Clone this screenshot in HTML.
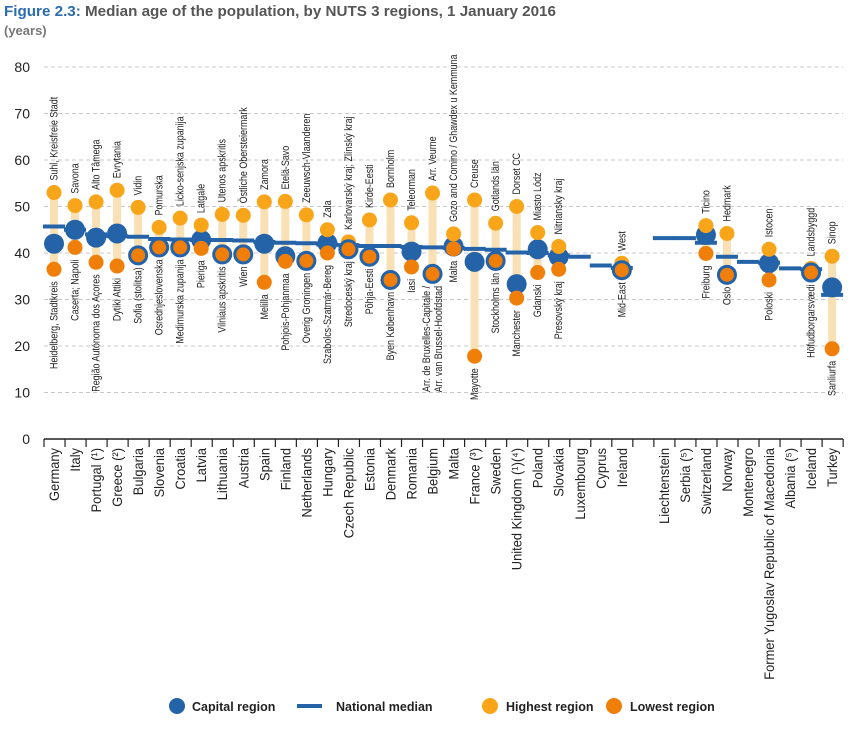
<!DOCTYPE html>
<html><head><meta charset="utf-8">
<style>
body{margin:0;background:#fff;width:853px;height:724px;overflow:hidden;font-family:"Liberation Sans",sans-serif}
svg text{font-family:"Liberation Sans Narrow","Liberation Sans",sans-serif}
</style></head>
<body>
<svg id="chart" width="853" height="724" viewBox="0 0 853 724" xmlns="http://www.w3.org/2000/svg">
<text x="4" y="16" font-family="Liberation Sans" font-size="15.2" font-weight="bold" fill="#555" style="font-family:'Liberation Sans'"><tspan fill="#2b6cb0">Figure 2.3:</tspan> Median age of the population, by NUTS 3 regions, 1 January 2016</text>
<text x="4" y="35" font-size="13" font-weight="bold" fill="#777" style="font-family:'Liberation Sans'">(years)</text>
<g id="grid"></g><g id="marks"></g><g id="labels"></g>
<g font-size="12.5" font-weight="bold" fill="#222">
<circle cx="177" cy="706" r="8" fill="#2563a8"/>
<text x="192" y="711" style="font-family:'Liberation Sans'">Capital region</text>
<line x1="297" y1="706" x2="322" y2="706" stroke="#2563a8" stroke-width="4"/>
<text x="336" y="711" style="font-family:'Liberation Sans'">National median</text>
<circle cx="490" cy="706" r="8" fill="#f9a51a"/>
<text x="506" y="711" style="font-family:'Liberation Sans'">Highest region</text>
<circle cx="614" cy="706" r="8" fill="#f07f0a"/>
<text x="630" y="711" style="font-family:'Liberation Sans'">Lowest region</text>
</g>
</svg>
<script>
const countries=["Germany","Italy","Portugal (¹)","Greece (²)","Bulgaria","Slovenia","Croatia","Latvia","Lithuania","Austria","Spain","Finland","Netherlands","Hungary","Czech Republic","Estonia","Denmark","Romania","Belgium","Malta","France (³)","Sweden","United Kingdom (¹)(⁴)","Poland","Slovakia","Luxembourg","Cyprus","Ireland","","Liechtenstein","Serbia (⁵)","Switzerland","Norway","Montenegro","Former Yugoslav Republic of Macedonia","Albania (⁵)","Iceland","Turkey"];
const medianVals=[45.7,45,44,43.6,43.5,43,42.9,42.8,42.8,42.7,42.4,42.2,42.1,41.8,41.7,41.5,41.5,41.3,41.2,41.1,40.9,40.7,40.1,40,39.5,39.2,37.3,36.8,null,43.2,43.2,42.2,39.2,38.1,37.9,36.7,36.5,31];
const highVals=[53,50.2,51,53.5,49.8,45.5,47.5,46,48.3,48.1,51,51.1,48.2,45,42.4,47.1,51.4,46.5,52.9,44.1,51.4,46.4,50,44.4,41.4,null,null,37.8,null,null,null,45.9,44.2,null,40.8,null,36.7,39.3];
const lowVals=[36.5,41.2,38,37.2,39.5,41.2,41.2,41,39.7,39.7,33.7,38.2,38.3,40,40.8,39.2,34.2,37,35.5,40.9,17.8,38.3,30.3,35.8,36.5,null,null,36.3,null,null,null,39.9,35.3,null,34.2,null,35.8,19.4];
const capitalVals=[42,45,43.3,44.2,39.5,41.2,41.2,42.8,39.7,39.7,42,39.3,38.3,42.1,40.8,39.2,34.2,40.3,35.5,41.4,38.1,38.3,33.3,40.8,39.2,null,null,36.3,null,null,null,43.9,35.3,null,37.8,null,35.8,32.6];
const highNames=["Suhl, Kreisfreie Stadt","Savona","Alto Tâmega","Evrytania","Vidin","Pomurska","Licko-senjska zupanija","Latgale","Utenos apskritis","Östliche Obersteiermark","Zamora","Etelä-Savo","Zeeuwsch-Vlaanderen","Zala","Karlovarský kraj; Zlínský kraj","Kirde-Eesti","Bornholm","Teleorman","Arr. Veurne","Gozo and Comino / Ghawdex u Kemmuna","Creuse","Gotlands län","Dorset CC","Miasto Lódz","Nitriansky kraj","","","West","","","","Ticino","Hedmark","","Istocen","","Landsbyggd","Sinop"];
const lowNames=["Heidelberg, Stadtkreis","Caserta; Napoli","Região Autónoma dos Açores","Dytiki Attiki","Sofia (stolitsa)","Osrednjeslovenska","Medimurska zupanija","Pieriga","Vilniaus apskritis","Wien","Melilla","Pohjois-Pohjanmaa","Overig Groningen","Szabolcs-Szatmár-Bereg","Stredoceský kraj","Põhja-Eesti","Byen København","Iasi","Arr. de Bruxelles-Capitale /|Arr. van Brussel-Hoofdstad","Malta","Mayotte","Stockholms län","Manchester","Gdanski","Presovský kraj","","","Mid-East","","","","Freiburg","Oslo","","Poloski","","Höfudborgarsvædi","Sanliurfa"];
const yTicks=[0,10,20,30,40,50,60,70,80];

const NS="http://www.w3.org/2000/svg";
const X0=54,STEP=21.03,Y0=439,PER=4.65;
function xPos(i){return X0+i*STEP;}
function yPos(v){return Y0-v*PER;}
function mk(tag,attrs,parent){const e=document.createElementNS(NS,tag);for(const k in attrs)e.setAttribute(k,attrs[k]);parent.appendChild(e);return e;}
const grid=document.getElementById('grid'),marks=document.getElementById('marks'),labels=document.getElementById('labels');
const BLUE="#2563a8",HI="#f9a51a",LO="#f07f0a",BAR="#f9e0b5";

yTicks.forEach(t=>{
  if(t>0){const l=mk('line',{x1:44,x2:843,y1:yPos(t),y2:yPos(t),stroke:"#c8c8c8","stroke-dasharray":"4,3","stroke-width":1},grid);
  
  }
  const tx=mk('text',{x:30,y:yPos(t)+5,"text-anchor":"end","font-size":14,fill:"#222",style:"font-family:'Liberation Sans'"},grid);
  tx.textContent=t;
  
  
});
const ax=mk('line',{x1:44,x2:843,y1:Y0,y2:Y0,stroke:"#222","stroke-width":1.5},grid);


for(let i=0;i<=countries.length;i++){
  const tk=mk('line',{x1:44+i*STEP,x2:44+i*STEP,y1:Y0,y2:Y0+8,stroke:"#222","stroke-width":1.2},grid);
  
  
}

countries.forEach((c,i)=>{
  const x=xPos(i);
  if(c){
    const t=mk('text',{transform:`translate(${x+5},448) rotate(-90) scale(0.955,1)`,"text-anchor":"end","font-size":13.5,fill:"#222",style:"font-family:'Liberation Sans'"},labels);
    t.textContent=c;
    
    
  }
  const h=highVals[i],lo=lowVals[i],cap=capitalVals[i],m=medianVals[i];
  if(h!=null&&lo!=null){
    const b=mk('line',{x1:x,x2:x,y1:yPos(h),y2:yPos(lo),stroke:BAR,"stroke-width":8},marks);
    
    
  }
  if(m!=null){
    const ml=mk('line',{x1:x-11,x2:x+11,y1:yPos(m),y2:yPos(m),stroke:BLUE,"stroke-width":4},marks);
    
    
  }
  const ring=cap!=null&&lo!=null&&Math.abs(cap-lo)<0.3;
  if(cap!=null&&!ring){
    const cc=mk('circle',{cx:x,cy:yPos(cap),r:10,fill:BLUE},marks);
    
    
  }
  if(h!=null){
    const hc=mk('circle',{cx:x,cy:yPos(h),r:7.5,fill:HI},marks);
    
    
  }
  if(lo!=null){
    const lc=mk('circle',{cx:x,cy:yPos(lo),r:ring?8.5:7.5,fill:LO,stroke:ring?BLUE:"none","stroke-width":ring?3:0},marks);
    
    
  }
  if(highNames[i]){
    const t=mk('text',{transform:`translate(${x+3.5},${yPos(h)-12}) rotate(-90) scale(0.85,1.05)`,"font-size":10.5,fill:"#222"},labels);
    t.textContent=highNames[i];
    
    
  }
  if(lowNames[i]){
    const parts=lowNames[i].split('|');
    parts.forEach((p,k)=>{
      const off=(k-(parts.length-1)/2)*12;
      const t=mk('text',{transform:`translate(${x+3.5+off},${yPos(lo)+12}) rotate(-90) scale(0.85,1.05)`,"text-anchor":"end","font-size":10.5,fill:"#222"},labels);
      t.textContent=p;
      
      
    });
  }
});
</script>
</body></html>
